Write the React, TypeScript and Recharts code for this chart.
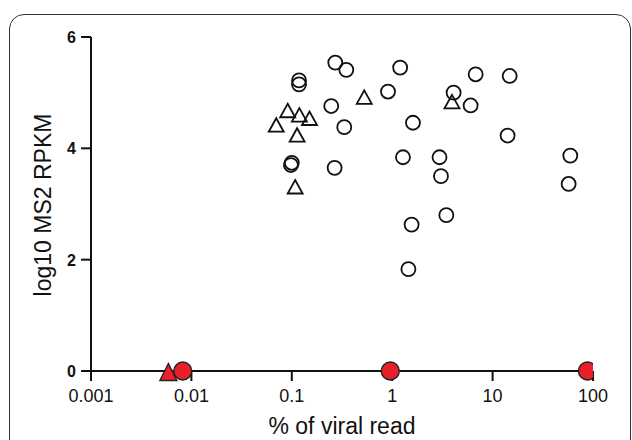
import React from 'react';
import { ScatterChart, Scatter, XAxis, YAxis } from 'recharts';

// open circles (% of viral read, log10 MS2 RPKM)
const circleX = [0.271, 0.349, 1.2, 0.118, 0.118, 0.908, 0.247, 1.61, 0.333, 0.1, 0.098, 0.267, 1.28,
  6.78, 14.8, 4.09, 6.04, 14.1, 2.96, 3.06, 59.4, 57.2, 3.46, 1.56, 1.45];
const circleY = [5.54, 5.41, 5.45, 5.22, 5.15, 5.02, 4.76, 4.46, 4.38, 3.74, 3.70, 3.65, 3.84,
  5.33, 5.30, 5.0, 4.77, 4.23, 3.84, 3.50, 3.87, 3.36, 2.80, 2.63, 1.83];

// open triangles
const triangleX = [0.527, 0.091, 0.119, 0.150, 0.070, 0.113, 0.108, 3.94];
const triangleY = [4.92, 4.68, 4.60, 4.54, 4.42, 4.24, 3.31, 4.84];

// red markers sitting on zero
const zeroCircleX = [0.0082, 0.957, 88];
const zeroTriangleX = [0.0059];

const xTicks = [0.001, 0.01, 0.1, 1, 10, 100];
const yTicks = [0, 2, 4, 6];

const circles = circleX.map((x, i) => ({ x, y: circleY[i] }));
const triangles = triangleX.map((x, i) => ({ x, y: triangleY[i] }));
const zeroCircles = zeroCircleX.map((x) => ({ x, y: 0 }));
const zeroTriangles = zeroTriangleX.map((x) => ({ x, y: 0 }));

const FONT = '"Liberation Sans", Arial, sans-serif';

const trianglePath = (cx: number, cy: number, w: number, h: number) =>
  `M${cx},${cy - h / 2}L${cx + w / 2},${cy + h / 2}L${cx - w / 2},${cy + h / 2}Z`;

const OpenCircle = ({ cx, cy }: any) => (
  <circle cx={cx} cy={cy} r={7} fill="none" stroke="#111" strokeWidth={1.8} />
);
const OpenTriangle = ({ cx, cy }: any) => (
  <path d={trianglePath(cx, cy, 15, 13.5)} fill="none" stroke="#111" strokeWidth={1.8} />
);
const RedCircle = ({ cx, cy }: any) => (
  <circle cx={cx} cy={cy} r={9} fill="#e8202a" stroke="#222" strokeWidth={1.4} />
);
const RedTriangle = ({ cx, cy }: any) => (
  <path d={trianglePath(cx, cy + 1, 17, 17)} fill="#e8202a" stroke="#222" strokeWidth={1.4} />
);

const XTick = ({ x, payload }: any) => (
  <text x={x} y={402} textAnchor="middle" fontSize={18} fontFamily={FONT} fill="#111">
    {payload.value}
  </text>
);
const YTick = ({ y, payload }: any) => (
  <text x={76} y={y + 6} textAnchor="end" fontSize={16} fontWeight="bold" fontFamily={FONT} fill="#111">
    {payload.value}
  </text>
);

export default function App() {
  return (
    <div style={{ position: 'absolute', left: 0, top: 0, width: 632, height: 440, overflow: 'hidden', background: '#fff' }}>
      <div
        style={{
          position: 'absolute',
          left: 9,
          top: 14,
          width: 620,
          height: 470,
          border: '1.5px solid #333',
          borderRadius: 15,
        }}
      />
      <div style={{ position: 'absolute', left: 0, top: 0 }}>
        <ScatterChart width={632} height={440} margin={{ top: 37, right: 39, left: 21, bottom: 29 }}>
          <XAxis
            type="number"
            dataKey="x"
            scale="log"
            domain={[0.001, 100]}
            ticks={xTicks}
            allowDataOverflow
            height={40}
            tickSize={10}
            tick={<XTick />}
            axisLine={{ stroke: '#111', strokeWidth: 2 }}
            tickLine={{ stroke: '#111', strokeWidth: 2 }}
            label={() => (
              <text x={342} y={434} textAnchor="middle" fontSize={23} fontFamily={FONT} fill="#111">
                % of viral read
              </text>
            )}
          />
          <YAxis
            type="number"
            dataKey="y"
            domain={[0, 6]}
            ticks={yTicks}
            width={70}
            tickSize={10}
            tick={<YTick />}
            axisLine={{ stroke: '#111', strokeWidth: 2 }}
            tickLine={{ stroke: '#111', strokeWidth: 2 }}
            label={() => (
              <text
                x={51}
                y={205}
                transform="rotate(-90 51 205)"
                textAnchor="middle"
                fontSize={23}
                fontFamily={FONT}
                fill="#111"
              >
                log10 MS2 RPKM
              </text>
            )}
          />
          <Scatter data={circles} shape={<OpenCircle />} isAnimationActive={false} />
          <Scatter data={triangles} shape={<OpenTriangle />} isAnimationActive={false} />
          <Scatter data={zeroTriangles} shape={<RedTriangle />} isAnimationActive={false} />
          <Scatter data={zeroCircles} shape={<RedCircle />} isAnimationActive={false} />
        </ScatterChart>
      </div>
    </div>
  );
}
